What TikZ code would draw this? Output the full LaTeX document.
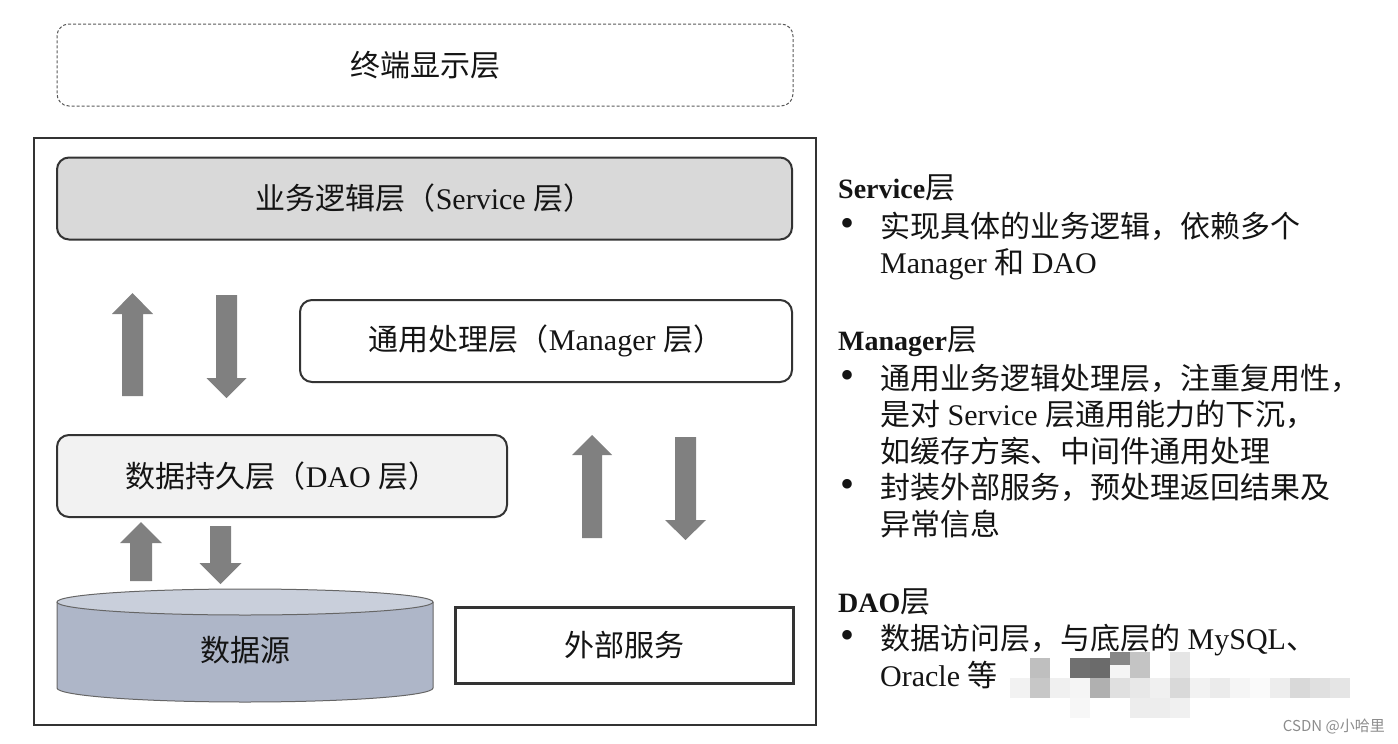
\documentclass[tikz,border=0pt]{standalone}
\usepackage{fontspec}
\usepackage{xcolor}
\usepackage{tikz}
\setmainfont{Liberation Serif}
\newfontfamily\cjkfont{Noto Sans CJK SC}
\newcommand\zh[1]{{\cjkfont #1}}
\newcommand\bul{\makebox[42pt][l]{\hspace{2pt}\raisebox{1pt}{\fontsize{40}{36.5}\selectfont•}}}
\newcommand\ind{\hspace*{42pt}}
\newcommand\hd[1]{{\fontsize{28}{36.5}\selectfont\textbf{#1}}}
\newcommand\blockarrow[6]{% x, tail, head base, tip, half shaft, half head
  \fill[blk] ({#1-#5},#2) -- ({#1-#5},#3) -- ({#1-#6},#3) -- (#1,#4)
    -- ({#1+#6},#3) -- ({#1+#5},#3) -- ({#1+#5},#2) -- cycle;}

\definecolor{linegray}{HTML}{333333}
\definecolor{svcfill}{HTML}{D9D9D9}
\definecolor{daofill}{HTML}{F2F2F2}
\definecolor{cylbody}{HTML}{AEB6C8}
\definecolor{cyltop}{HTML}{C9CFDB}
\definecolor{arrgray}{HTML}{808080}

\begin{document}
\begin{tikzpicture}[x=1pt,y=-1pt,
  nodes = {inner sep=0pt,font=\fontsize{30}{36.5}\selectfont,text=black!92},
  layer/.style = {draw=linegray,line width=2pt,rounded corners=12pt,minimum height=82pt},
  blk/.style = {fill=arrgray},
  note/.style = {anchor=base west,align=left}]
\useasboundingbox (0,0) rectangle (1398,744);

% top: terminal layer
\node[draw=black!65,dash pattern=on 3pt off 2pt,line width=1pt,rounded corners=12pt,minimum width=736pt,minimum height=82pt] (term) at (425,65) {\zh{终端显示层}};

% application frame
\node[draw=linegray,line width=2pt,minimum width=782pt,minimum height=587pt] (frame) at (425,431.5) {};

\node[layer,fill=svcfill,minimum width=735pt] (service) at (424.5,198.5) {\zh{业务逻辑层（}Service \zh{层）}};
\node[layer,fill=white,minimum width=492pt] (manager) at (546,341) {\zh{通用处理层（}Manager \zh{层）}};
\node[layer,fill=daofill,minimum width=450pt] (dao) at (282,476) {\zh{数据持久层（}DAO \zh{层）}};
\node[draw=linegray,line width=3pt,minimum width=338pt,minimum height=76pt] (external) at (624,645) {\zh{外部服务}};

% data source cylinder
\filldraw[fill=cylbody,draw=black!60,line width=1pt] (57,602) -- (57,688)
  arc[start angle=180,end angle=0,x radius=188,y radius=14] -- (433,602);
\filldraw[fill=cyltop,draw=black!60,line width=1pt] (245,602) ellipse [x radius=188,y radius=13];
\node (source) at (245,650) {\zh{数据源}};

% block arrows
\blockarrow{132.5}{396}{314}{293}{10.5}{20.5}
\blockarrow{226.5}{295}{378}{398}{10.5}{20}
\blockarrow{141}{581}{543}{522}{11}{21}
\blockarrow{220.5}{526}{563}{584}{10.5}{21}
\blockarrow{592}{538}{455}{435}{10}{20}
\blockarrow{685.5}{437}{520}{540}{10.5}{20.5}

% notes on the right (base = last line)
\node[note] (svcnote) at (838,273.5) {\hd{Service}\zh{层}\\[2.5pt]
  \bul\zh{实现具体的业务逻辑，依赖多个}\\
  \ind Manager \zh{和} DAO};
\node[note] (mgrnote) at (838,535) {\hd{Manager}\zh{层}\\[2.5pt]
  \bul\zh{通用业务逻辑处理层，注重复用性，}\\
  \ind\zh{是对} Service \zh{层通用能力的下沉，}\\
  \ind\zh{如缓存方案、中间件通用处理}\\
  \bul\zh{封装外部服务，预处理返回结果及}\\
  \ind\zh{异常信息}};
\node[note] (daonote) at (838,686) {\hd{DAO}\zh{层}\\[1pt]
  \bul\zh{数据访问层，与底层的} MySQL\zh{、}\\
  \ind Oracle \zh{等}};

% mosaic over the hidden words
\foreach \x/\y/\h/\g in {1030/658/20/25,1070/658/20/56,1090/658/20/58,1110/652/13/47,
  1110/665/13/4,1130/652/26/23,1170/652/26/10,
  1010/678/20/5,1030/678/20/22,1050/678/20/6,1070/678/20/4,1090/678/20/31,
  1110/678/20/12,1130/678/20/9,1150/678/20/6,1170/678/20/15,1190/678/20/5,
  1210/678/20/8,1230/678/20/4,1250/678/20/2,1270/678/20/7,1290/678/20/15,
  1310/678/20/12,1330/678/20/10,
  1070/698/20/3,1130/698/20/7,1150/698/20/7,1170/698/20/6}
  \fill[black!\g] (\x,\y) rectangle ++(20,\h);

\node[anchor=east,font=\cjkfont\fontsize{15}{15}\selectfont,text=black!45] (mark) at (1385,727) {CSDN @小哈里};
\end{tikzpicture}
\end{document}
